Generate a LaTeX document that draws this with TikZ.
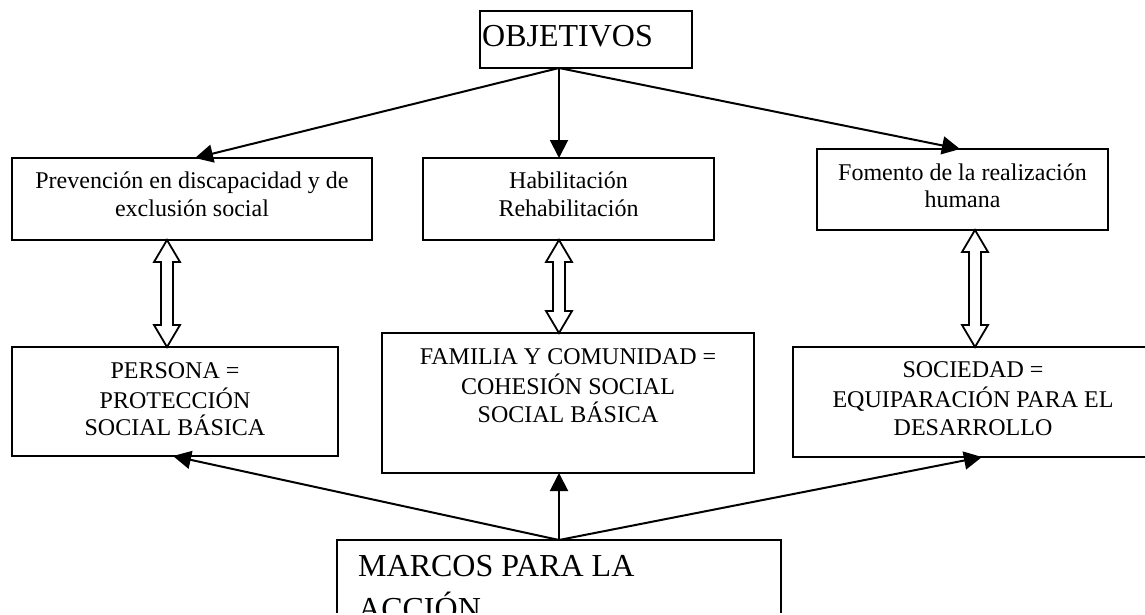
\documentclass[tikz,border=0pt]{standalone}
\usepackage{fontspec}
\setmainfont{Liberation Serif}
\usetikzlibrary{arrows.meta,calc}
\newcommand\hollowdouble[3]{%
  \path[hollow] (#1.south -| #3) -- ++(13,22) -- ++(-7,0)
    -- ($(#2.north -| #3)+(6,-22)$) -- ++(7,0) -- (#2.north -| #3)
    -- ++(-13,-22) -- ++(7,0) -- ($(#1.south -| #3)+(-6,22)$) -- ++(-7,0) -- cycle;}
\begin{document}
\begin{tikzpicture}[x=1pt,y=-1pt,
  box/.style={draw, line width=2pt, inner sep=0pt, outer sep=0pt},
  txt/.style={inner sep=0pt, align=center, anchor=north, font=\fontsize{24}{27.6}\selectfont},
  conn/.style={line width=2pt, -{Triangle[length=18pt,width=18pt]}},
  hollow/.style={draw, line width=1.8pt, fill=white, line join=miter},
]
\useasboundingbox (0,0) rectangle (1145,615);
\fill[white] (0,0) rectangle (1145,615);
\clip (0,0) rectangle (1145,612);

% boxes
\node[box, minimum width=212, minimum height=57] (obj) at (586,39.5) {};
\node[box, minimum width=360, minimum height=82] (prev) at (192,199) {};
\node[box, minimum width=291, minimum height=82] (hab) at (568.5,199) {};
\node[box, minimum width=291, minimum height=81] (fom) at (962.5,189.5) {};
\node[box, minimum width=326, minimum height=109] (pers) at (175,401.5) {};
\node[box, minimum width=372, minimum height=140] (fam) at (568,403) {};
\node[box, minimum width=360, minimum height=110] (soc) at (973,402) {};
\node[box, minimum width=444, minimum height=111] (marcos) at (559,595.5) {};

% texts
\node[inner sep=0pt, anchor=base west, font=\fontsize{32}{36.8}\selectfont] (tobj) at (482,47) {OBJETIVOS};
\node[txt] (tprev) at ($(prev.north)+(0,11.2)$) {\strut Prevención en discapacidad y de\\exclusión social};
\node[txt] (thab) at ($(hab.north)+(0,11.2)$) {\strut Habilitación\\Rehabilitación};
\node[txt] (tfom) at ($(fom.north)+(0,11.7)$) {\strut Fomento de la realización\\humana};
\node[txt] (tpers) at ($(pers.north)+(0,11.7)$) {\strut PERSONA =\\PROTECCIÓN\\SOCIAL BÁSICA};
\node[txt] (tfam) at ($(fam.north)+(0,12.2)$) {\strut FAMILIA Y COMUNIDAD =\\COHESIÓN SOCIAL\\SOCIAL BÁSICA};
\node[txt] (tsoc) at ($(soc.north)+(0,11.2)$) {\strut SOCIEDAD =\\EQUIPARACIÓN PARA EL\\DESARROLLO};
\node[inner sep=0pt, anchor=base west, align=left, font=\fontsize{32}{43}\selectfont] (tmar) at (358,619) {MARCOS PARA LA\\ACCIÓN};

% reference x positions
\coordinate (xo) at (559,0);
\coordinate (t1) at (195,0);
\coordinate (t3) at (960,0);
\coordinate (b1) at (173,0);
\coordinate (b3) at (982,0);
\coordinate (d1) at (167,0);
\coordinate (d2) at (559,0);
\coordinate (d3) at (975,0);

% top arrows
\draw[conn] (obj.south -| xo) -- (prev.north -| t1);
\draw[conn] (obj.south -| xo) -- (hab.north -| xo);
\draw[conn] (obj.south -| xo) -- (fom.north -| t3);

% bottom arrows
\draw[conn] (marcos.north -| xo) -- (pers.south -| b1);
\draw[conn] (marcos.north -| xo) -- (fam.south -| xo);
\draw[conn] (marcos.north -| xo) -- (soc.south -| b3);

% hollow double arrows
\hollowdouble{prev}{pers}{d1}
\hollowdouble{hab}{fam}{d2}
\hollowdouble{fom}{soc}{d3}
\end{tikzpicture}
\end{document}
